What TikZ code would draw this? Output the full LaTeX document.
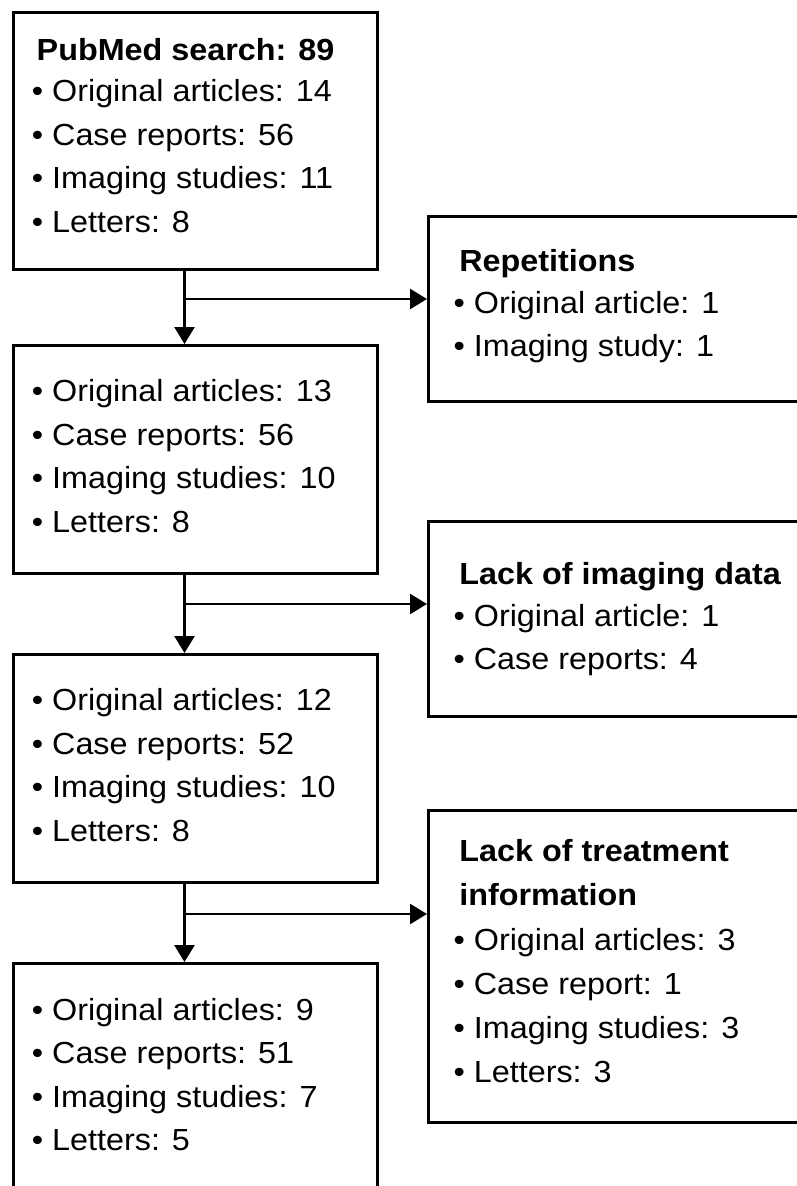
\documentclass[tikz,border=0pt]{standalone}
\usepackage{fontspec}
\setmainfont{Liberation Sans}[FakeStretch=1.06]
\usetikzlibrary{arrows.meta}
\begin{document}
\begin{tikzpicture}[x=1pt,y=-1pt,
  box/.style={draw=black, line width=2.6pt, rectangle, inner sep=0pt, anchor=north west, fill=none},
  txt/.style={inner sep=0pt, anchor=base west, font=\fontsize{30.5pt}{36pt}\selectfont},
  ttl/.style={txt, font=\fontsize{30.5pt}{36pt}\selectfont\bfseries},
  arr/.style={line width=2.6pt, -{Triangle[length=17pt,width=20pt]}}]
\useasboundingbox[fill=white] (0,0) rectangle (797,1186);
% left boxes
\node[box, minimum width=364pt, minimum height=257pt] (b1) at (12,11) {};
\node[box, minimum width=364pt, minimum height=228pt] (b2) at (12,344) {};
\node[box, minimum width=364pt, minimum height=228pt] (b3) at (12,653) {};
\node[box, minimum width=364pt, minimum height=260pt] (b4) at (12,962) {};
% right boxes
\node[box, minimum width=400pt, minimum height=185pt] (r1) at (427,215) {};
\node[box, minimum width=400pt, minimum height=195pt] (r2) at (427,520) {};
\node[box, minimum width=400pt, minimum height=312pt] (r3) at (427,809) {};
% texts box 1
\node[ttl] (b1t) at (36.5,60.2) {PubMed search: 89};
\node[txt] (b1a) at (31.7,101.7) {• Original articles: 14};
\node[txt] (b1b) at (31.7,145.2) {• Case reports: 56};
\node[txt] (b1c) at (31.7,188.7) {• Imaging studies: 11};
\node[txt] (b1d) at (31.7,232.2) {• Letters: 8};
% box 2
\node[txt] (b2a) at (31.7,401.7) {• Original articles: 13};
\node[txt] (b2b) at (31.7,445.2) {• Case reports: 56};
\node[txt] (b2c) at (31.7,488.7) {• Imaging studies: 10};
\node[txt] (b2d) at (31.7,532.2) {• Letters: 8};
% box 3
\node[txt] (b3a) at (31.7,710.7) {• Original articles: 12};
\node[txt] (b3b) at (31.7,754.2) {• Case reports: 52};
\node[txt] (b3c) at (31.7,797.7) {• Imaging studies: 10};
\node[txt] (b3d) at (31.7,841.2) {• Letters: 8};
% box 4
\node[txt] (b4a) at (31.7,1020) {• Original articles: 9};
\node[txt] (b4b) at (31.7,1063.5) {• Case reports: 51};
\node[txt] (b4c) at (31.7,1107) {• Imaging studies: 7};
\node[txt] (b4d) at (31.7,1150.5) {• Letters: 5};
% right box 1
\node[ttl] (r1t) at (459.2,271.5) {Repetitions};
\node[txt] (r1a) at (453.4,313) {• Original article: 1};
\node[txt] (r1b) at (453.4,356.5) {• Imaging study: 1};
% right box 2
\node[ttl] (r2t) at (459.2,584.5) {Lack of imaging data};
\node[txt] (r2a) at (453.4,626) {• Original article: 1};
\node[txt] (r2b) at (453.4,669.5) {• Case reports: 4};
% right box 3
\node[ttl] (r3t) at (459.2,861.7) {Lack of treatment};
\node[ttl] (r3u) at (459.2,905.9) {information};
\node[txt] (r3a) at (453.4,950) {• Original articles: 3};
\node[txt] (r3b) at (453.4,994.2) {• Case report: 1};
\node[txt] (r3c) at (453.4,1038.4) {• Imaging studies: 3};
\node[txt] (r3d) at (453.4,1082.6) {• Letters: 3};
% connectors
\coordinate (j1) at (184.5,299);
\coordinate (j2) at (184.5,604);
\coordinate (j3) at (184.5,914);
\draw[arr] (j1 |- b1.south) -- (j1 |- b2.north);
\draw[arr] (j1) -- (j1 -| r1.west);
\draw[arr] (j2 |- b2.south) -- (j2 |- b3.north);
\draw[arr] (j2) -- (j2 -| r2.west);
\draw[arr] (j3 |- b3.south) -- (j3 |- b4.north);
\draw[arr] (j3) -- (j3 -| r3.west);
\end{tikzpicture}
\end{document}
